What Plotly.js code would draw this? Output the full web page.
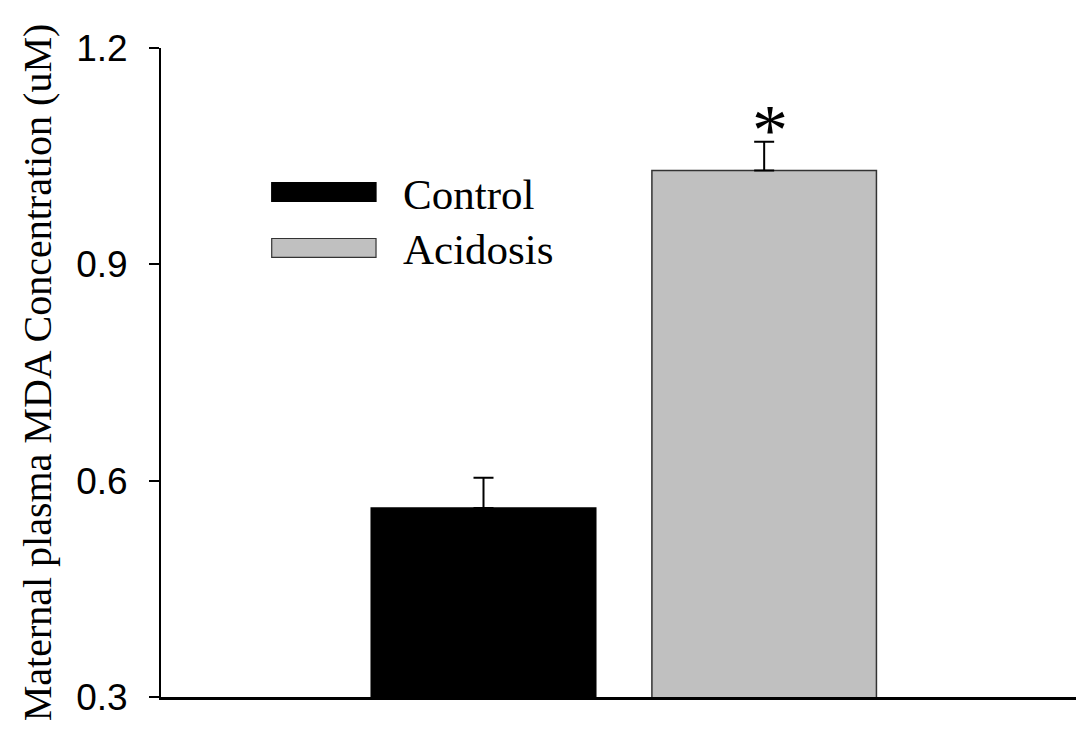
<!DOCTYPE html>
<html>
<head>
<meta charset="utf-8">
<script src="https://cdn.plot.ly/plotly-3.0.1.min.js"></script>
<style>
  html, body { margin: 0; padding: 0; background: #fff; }
  #chart { width: 1076px; height: 732px; }
</style>
</head>
<body>
<div id="chart"></div>
<script>
// Maternal plasma MDA, mean with upward SEM bar
const groups = ['Control', 'Acidosis'];
const positions = [1, 2];
const mdaMean = [0.562, 1.030];
const mdaSem = [0.042, 0.040];
const barFills = ['#000000', '#c0c0c0'];
const barEdges = ['#000000', '#333333'];
const yTicks = [0.3, 0.6, 0.9, 1.2];
const yTickText = ['0.3', '0.6', '0.9', '1.2'];
const sigMark = '*';

const serif = 'Liberation Serif, Times New Roman, serif';
const sans = 'Liberation Sans, Arial, sans-serif';

const traces = groups.map((g, i) => ({
  type: 'bar',
  name: g,
  x: [positions[i]],
  y: [mdaMean[i]],
  width: 0.8,
  marker: { color: barFills[i], line: { color: barEdges[i], width: 1.5 } },
  error_y: {
    type: 'data', symmetric: false,
    array: [mdaSem[i]], arrayminus: [0],
    color: '#000', thickness: 2, width: 10
  },
  showlegend: false,
  hoverinfo: 'skip'
}));

// legend swatches and labels, laid out in paper coordinates
const shapes = [];
const annotations = [];
const legX0 = 0.121, legX1 = 0.235, legTextX = 0.262;
const legRows = [0.778, 0.692];
groups.forEach((g, i) => {
  const yc = legRows[i];
  shapes.push({
    type: 'rect', xref: 'paper', yref: 'paper',
    x0: legX0, x1: legX1, y0: yc - 0.0145, y1: yc + 0.0145,
    fillcolor: barFills[i], line: { color: barEdges[i], width: 1.2 }
  });
  annotations.push({
    xref: 'paper', yref: 'paper', x: legTextX, y: yc,
    xanchor: 'left', yanchor: 'middle', showarrow: false,
    yshift: -2,
    text: g, font: { family: serif, size: 43, color: '#000' }
  });
});

// significance marker above the acidosis error bar
annotations.push({
  x: positions[1], y: mdaMean[1] + mdaSem[1],
  xref: 'x', yref: 'y', yanchor: 'bottom', xanchor: 'center',
  xshift: 6, yshift: -30,
  showarrow: false, text: sigMark,
  font: { family: serif, size: 72, color: '#000' }
});

const layout = {
  width: 1076, height: 732,
  margin: { l: 161, r: 0, t: 48, b: 35, pad: 0 },
  paper_bgcolor: '#fff', plot_bgcolor: '#fff',
  bargap: 0.2,
  xaxis: {
    range: [-0.149, 3.111],
    showticklabels: false, ticks: '', showgrid: false, zeroline: false,
    showline: true, linecolor: '#000', linewidth: 3, fixedrange: true
  },
  yaxis: {
    range: [0.3, 1.2],
    tickvals: yTicks, ticktext: yTickText,
    ticks: 'outside', ticklen: 10, tickwidth: 2, tickcolor: '#000',
    showgrid: false, zeroline: false,
    showline: true, linecolor: '#000', linewidth: 2,
    tickfont: { family: sans, size: 37, color: '#000' },
    ticklabelstandoff: 14,
    title: {
      text: 'Maternal plasma MDA Concentration (uM)',
      font: { family: serif, size: 40, color: '#000' },
      standoff: 12
    },
    fixedrange: true
  },
  shapes: shapes,
  annotations: annotations,
  showlegend: false
};

Plotly.newPlot('chart', traces, layout, { staticPlot: true, displayModeBar: false });
</script>
</body>
</html>
